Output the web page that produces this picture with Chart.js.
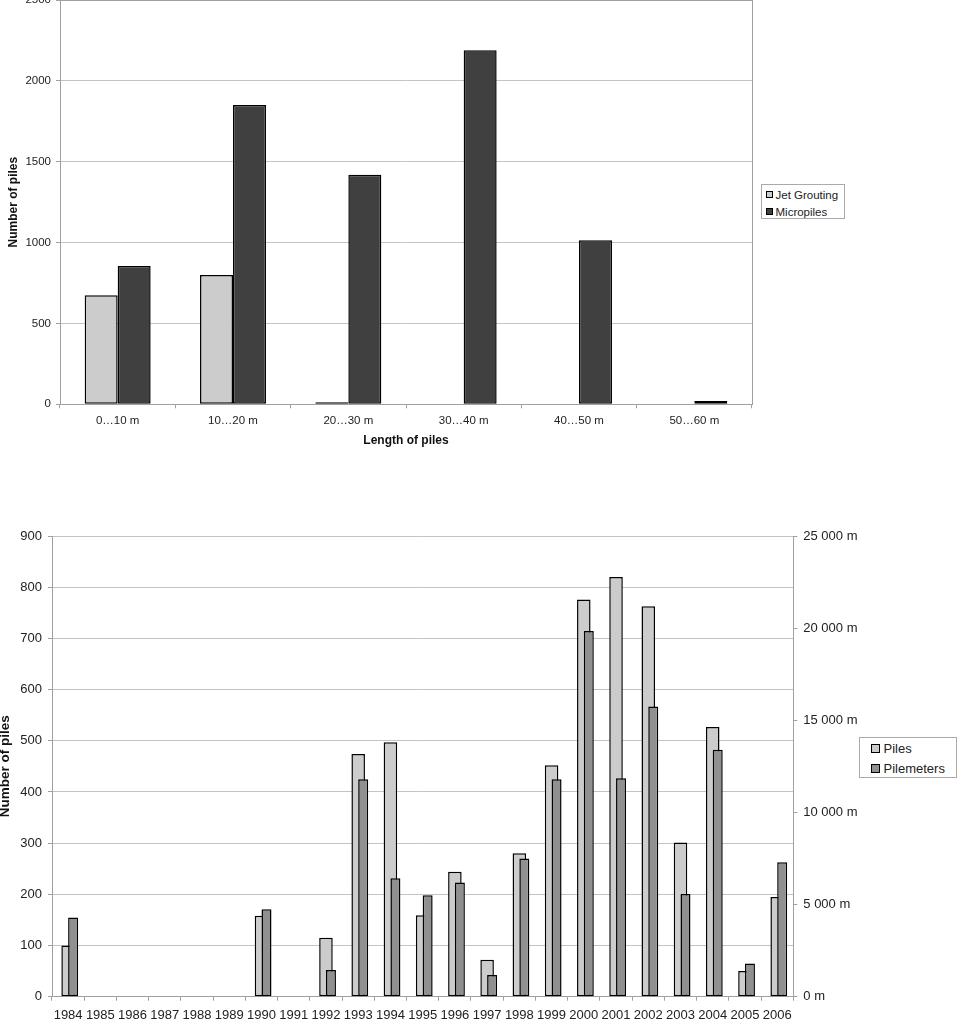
<!DOCTYPE html>
<html>
<head>
<meta charset="utf-8">
<title>Piles by length and by year</title>
<script src="https://cdn.jsdelivr.net/npm/chart.js@4.4.1/dist/chart.umd.min.js"></script>
<style>
  html, body { margin: 0; padding: 0; background: #fff; overflow: hidden; }
  body { width: 960px; height: 1022px; position: relative; font-family: "Liberation Sans", Arial, sans-serif; color: #222; }
  .chart-box { position: absolute; left: 0; width: 960px; }
  #length-box { top: -12px; height: 470px; }
  #year-box { top: 510px; height: 512px; }
  .legend { position: absolute; background: #fff; border: 1px solid #aaa; box-sizing: border-box; }
  .legend-item { display: flex; align-items: center; white-space: nowrap; }
  .swatch { display: inline-block; box-sizing: border-box; border: 1px solid #000; flex: none; }
  #length-legend { left: 761px; top: 184px; width: 84px; height: 35px; padding: 1px 0 0 4px; font-size: 11.5px; }
  #length-legend .legend-item { height: 17px; }
  #length-legend .swatch { width: 7px; height: 7px; margin-right: 2.5px; }
  #year-legend { left: 859px; top: 737px; width: 98px; height: 41px; padding: 0 0 0 11px; font-size: 13px; }
  #year-legend .legend-item { height: 20px; }
  #year-legend .swatch { width: 9px; height: 9px; margin-right: 3.5px; }
</style>
</head>
<body>
<div class="chart-box" id="length-box"><canvas id="length-chart"></canvas></div>
<div class="legend" id="length-legend"></div>
<div class="chart-box" id="year-box"><canvas id="year-chart"></canvas></div>
<div class="legend" id="year-legend"></div>

<script>
// Top chart: number of piles by pile length
const lengthLabels = ["0…10 m", "10…20 m", "20…30 m", "30…40 m", "40…50 m", "50…60 m"];
const jetGrouting = [675, 800, 12, 0, 0, 0];
const micropiles = [855, 1850, 1420, 2190, 1015, 20];
const lengthCountTicks = [0, 500, 1000, 1500, 2000, 2500];

// Bottom chart: piles and pilemeters per year
const years = [
  "1984", "1985", "1986", "1987", "1988", "1989", "1990", "1991", "1992", "1993", "1994", "1995",
  "1996", "1997", "1998", "1999", "2000", "2001", "2002", "2003", "2004", "2005", "2006",
];
const piles = [
  100, null, null, null, null, null, 158, null, 115, 474, 497, 159,
  244, 72, 280, 452, 776, 820, 763, 301, 527, 50, 195,
];
const pilemeters = [
  4300, null, null, null, null, null, 4750, null, 1450, 11800, 6425, 5500,
  6200, 1180, 7500, 11800, 19850, 11850, 15750, 5570, 13400, 1800, 7300,
];
const pileCountTicks = [0, 100, 200, 300, 400, 500, 600, 700, 800, 900];
const meterTicks = [0, 5000, 10000, 15000, 20000, 25000];
const meterTickLabels = ["0 m", "5 000 m", "10 000 m", "15 000 m", "20 000 m", "25 000 m"];

const AXIS_GREY = "#a0a0a0";
const GRID_GREY = "#c4c4c4";
const BAR_EDGE = "#000";
const EDGE_WIDTH = 1.5;

Chart.defaults.font.family = '"Liberation Sans", Arial, sans-serif';
Chart.defaults.color = "#222";

// Excel-like frame round the plot area
const plotFrame = {
  id: "plotFrame",
  beforeDatasetsDraw(chart) {
    const { ctx, chartArea: a } = chart;
    ctx.save();
    ctx.strokeStyle = AXIS_GREY;
    ctx.lineWidth = 1;
    ctx.strokeRect(Math.round(a.left) + 0.5, Math.round(a.top) + 0.5,
      Math.round(a.right - a.left), Math.round(a.bottom - a.top));
    ctx.restore();
  },
};

const fillLegend = (id, datasets) => {
  const box = document.getElementById(id);
  datasets.forEach((ds) => {
    const item = document.createElement("div");
    item.className = "legend-item";
    const swatch = document.createElement("span");
    swatch.className = "swatch";
    swatch.style.background = ds.backgroundColor;
    item.appendChild(swatch);
    item.appendChild(document.createTextNode(ds.label));
    box.appendChild(item);
  });
};

const lengthDatasets = [
  {
    label: "Jet Grouting",
    data: jetGrouting,
    backgroundColor: "#cccccc",
    borderColor: BAR_EDGE,
    borderWidth: EDGE_WIDTH,
    borderSkipped: false,
    categoryPercentage: 0.572,
    barPercentage: 1,
  },
  {
    label: "Micropiles",
    data: micropiles,
    backgroundColor: "#404040",
    borderColor: BAR_EDGE,
    borderWidth: EDGE_WIDTH,
    borderSkipped: false,
    categoryPercentage: 0.572,
    barPercentage: 1,
  },
];

new Chart(document.getElementById("length-chart"), {
  type: "bar",
  data: { labels: lengthLabels, datasets: lengthDatasets },
  options: {
    responsive: true,
    maintainAspectRatio: false,
    animation: false,
    layout: { padding: { top: 12, right: 208, bottom: 5.7, left: 0 } },
    plugins: { legend: { display: false }, tooltip: { enabled: false } },
    scales: {
      x: {
        grid: { offset: true, drawOnChartArea: false, tickLength: 4, tickColor: AXIS_GREY },
        border: { color: AXIS_GREY },
        ticks: { padding: 6, font: { size: 11.5 }, maxRotation: 0, autoSkip: false },
        title: {
          display: true,
          text: "Length of piles",
          font: { size: 12, weight: "bold" },
          color: "#111",
          padding: { top: 0, bottom: 4 },
        },
        afterFit: (scale) => { scale.height = 48; },
      },
      y: {
        min: lengthCountTicks[0],
        max: lengthCountTicks[lengthCountTicks.length - 1],
        afterBuildTicks: (scale) => { scale.ticks = lengthCountTicks.map((value) => ({ value })); },
        grid: { color: GRID_GREY, tickLength: 4, tickColor: AXIS_GREY },
        border: { color: AXIS_GREY },
        ticks: { padding: 5, font: { size: 11.5 }, callback: (value) => String(value) },
        title: {
          display: true,
          text: "Number of piles",
          font: { size: 12, weight: "bold" },
          color: "#111",
          padding: { top: 6, bottom: 0 },
        },
        afterFit: (scale) => { scale.width = 60; },
      },
    },
  },
  plugins: [plotFrame],
});
fillLegend("length-legend", lengthDatasets);

// piles sit centred in the year; pilemeters take the right half of a two-slot group
const yearDatasets = [
  {
    label: "Piles",
    data: piles,
    yAxisID: "y",
    backgroundColor: "#cccccc",
    borderColor: BAR_EDGE,
    borderWidth: EDGE_WIDTH,
    borderSkipped: false,
    grouped: false,
    categoryPercentage: 0.42,
    barPercentage: 1,
    order: 1,
  },
  {
    label: "spacer",
    data: years.map(() => null),
    yAxisID: "yR",
    backgroundColor: "rgba(0,0,0,0)",
    borderWidth: 0,
    categoryPercentage: 0.62,
    barPercentage: 1,
    order: 0,
  },
  {
    label: "Pilemeters",
    data: pilemeters,
    yAxisID: "yR",
    backgroundColor: "#909090",
    borderColor: BAR_EDGE,
    borderWidth: EDGE_WIDTH,
    borderSkipped: false,
    categoryPercentage: 0.62,
    barPercentage: 1,
    order: 0,
  },
];

new Chart(document.getElementById("year-chart"), {
  type: "bar",
  data: { labels: years, datasets: yearDatasets },
  options: {
    responsive: true,
    maintainAspectRatio: false,
    animation: false,
    layout: { padding: { top: 26, right: 96.7, bottom: 0.3, left: 0 } },
    plugins: { legend: { display: false }, tooltip: { enabled: false } },
    scales: {
      x: {
        grid: { offset: true, drawOnChartArea: false, tickLength: 4, tickColor: AXIS_GREY },
        border: { color: AXIS_GREY },
        ticks: { padding: 7, font: { size: 13 }, maxRotation: 0, autoSkip: false },
        afterFit: (scale) => { scale.height = 25; },
      },
      y: {
        position: "left",
        min: pileCountTicks[0],
        max: pileCountTicks[pileCountTicks.length - 1],
        afterBuildTicks: (scale) => { scale.ticks = pileCountTicks.map((value) => ({ value })); },
        grid: { color: GRID_GREY, tickLength: 4, tickColor: AXIS_GREY },
        border: { color: AXIS_GREY },
        ticks: { padding: 6, font: { size: 13 }, callback: (value) => String(value) },
        title: {
          display: true,
          text: "Number of piles",
          font: { size: 13.5, weight: "bold", lineHeight: 1 },
          color: "#111",
          padding: { top: -1, bottom: 0 },
        },
        afterFit: (scale) => { scale.width = 52; },
      },
      yR: {
        position: "right",
        min: meterTicks[0],
        max: meterTicks[meterTicks.length - 1],
        afterBuildTicks: (scale) => { scale.ticks = meterTicks.map((value) => ({ value })); },
        grid: { drawOnChartArea: false, tickLength: 4, tickColor: AXIS_GREY },
        border: { color: AXIS_GREY },
        ticks: {
          padding: 6,
          font: { size: 13 },
          callback: (value) => meterTickLabels[meterTicks.indexOf(value)],
        },
        afterFit: (scale) => { scale.width = 70; },
      },
    },
  },
});
fillLegend("year-legend", yearDatasets.filter((ds) => ds.label !== "spacer"));
</script>
</body>
</html>
